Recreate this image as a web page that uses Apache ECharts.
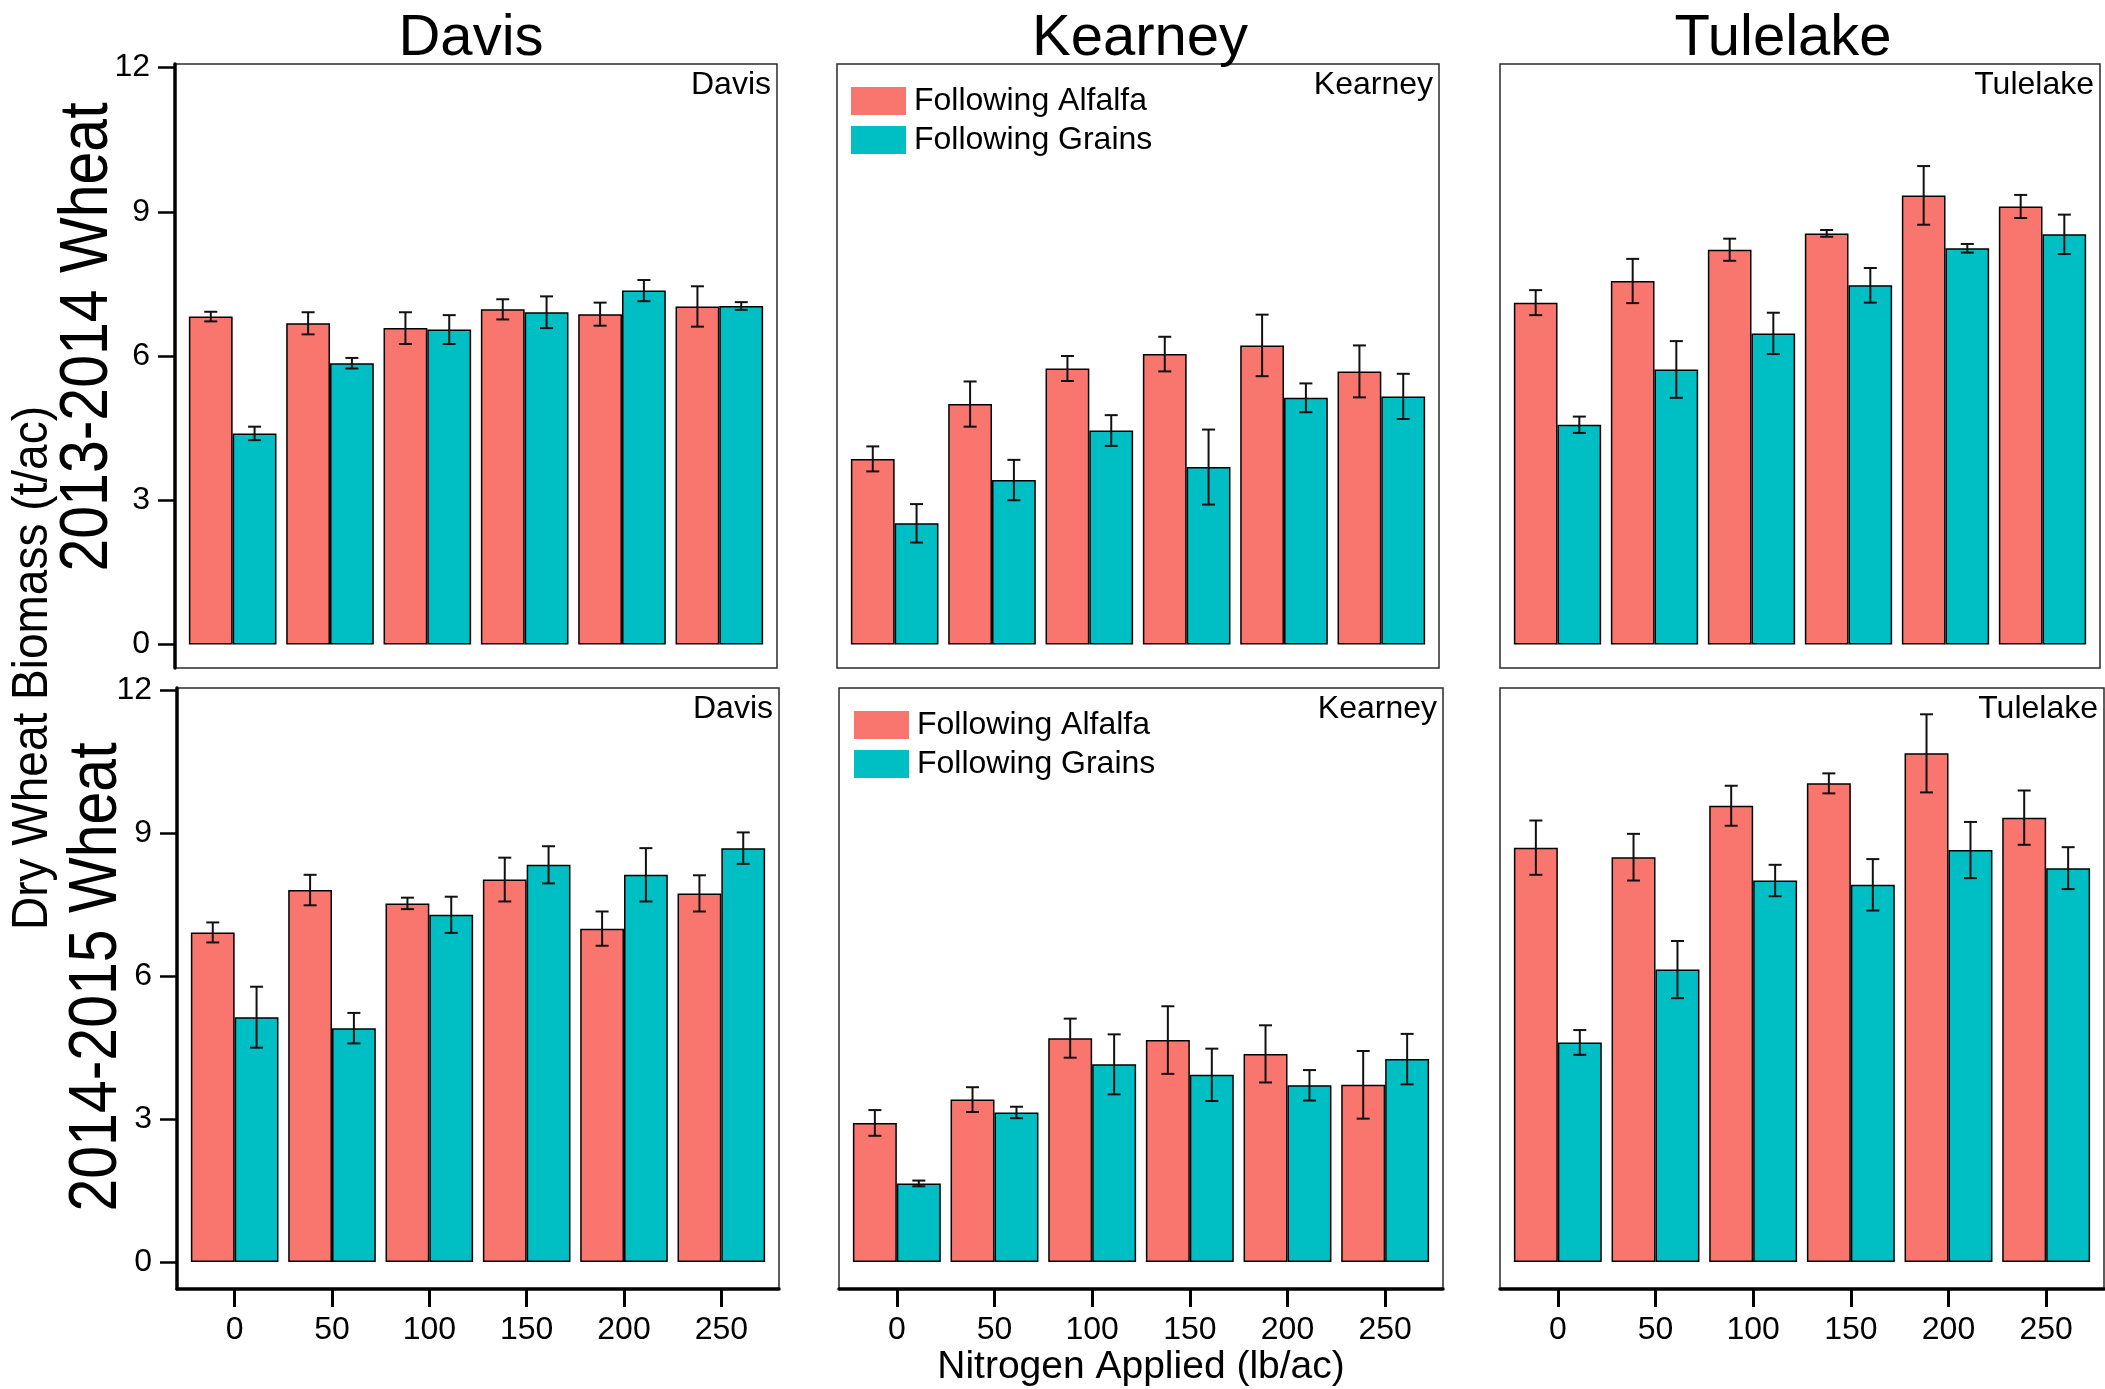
<!DOCTYPE html>
<html>
<head>
<meta charset="utf-8">
<script src="https://cdn.jsdelivr.net/npm/echarts@6/dist/echarts.min.js"></script>
<style>
html,body{margin:0;padding:0;background:#fff;}
#chart{width:2105px;height:1389px;}
</style>
</head>
<body>
<div id="chart"></div>
<script>
// ---------------- DATA ----------------
const nitrogen = ['0', '50', '100', '150', '200', '250'];
const sites = ['Davis', 'Kearney', 'Tulelake'];
const seasons = ['2013-2014 Wheat', '2014-2015 Wheat'];
const seriesNames = ['Following Alfalfa', 'Following Grains'];
const yTicks = [0, 3, 6, 9, 12];

// 2013-2014
const davis1314Alfalfa     = [6.82, 6.68, 6.58, 6.97, 6.87, 7.03];
const davis1314AlfalfaErr  = [0.10, 0.23, 0.33, 0.21, 0.24, 0.42];
const davis1314Grains      = [4.39, 5.85, 6.55, 6.91, 7.36, 7.04];
const davis1314GrainsErr   = [0.14, 0.11, 0.30, 0.33, 0.22, 0.08];

const kearney1314Alfalfa    = [3.86, 5.00, 5.74, 6.04, 6.22, 5.68];
const kearney1314AlfalfaErr = [0.26, 0.47, 0.26, 0.36, 0.64, 0.54];
const kearney1314Grains     = [2.52, 3.42, 4.45, 3.69, 5.13, 5.16];
const kearney1314GrainsErr  = [0.40, 0.42, 0.32, 0.78, 0.30, 0.47];

const tulelake1314Alfalfa    = [7.11, 7.56, 8.21, 8.55, 9.34, 9.11];
const tulelake1314AlfalfaErr = [0.26, 0.46, 0.23, 0.07, 0.61, 0.24];
const tulelake1314Grains     = [4.57, 5.72, 6.47, 7.47, 8.24, 8.53];
const tulelake1314GrainsErr  = [0.17, 0.59, 0.43, 0.36, 0.09, 0.41];

// 2014-2015
const davis1415Alfalfa     = [6.92, 7.81, 7.53, 8.03, 7.00, 7.74];
const davis1415AlfalfaErr  = [0.21, 0.32, 0.12, 0.46, 0.36, 0.38];
const davis1415Grains      = [5.14, 4.91, 7.29, 8.34, 8.13, 8.69];
const davis1415GrainsErr   = [0.64, 0.32, 0.38, 0.39, 0.56, 0.33];

const kearney1415Alfalfa    = [2.92, 3.41, 4.70, 4.66, 4.37, 3.72];
const kearney1415AlfalfaErr = [0.27, 0.26, 0.41, 0.71, 0.60, 0.71];
const kearney1415Grains     = [1.65, 3.14, 4.15, 3.93, 3.71, 4.26];
const kearney1415GrainsErr  = [0.06, 0.12, 0.63, 0.55, 0.32, 0.53];

const tulelake1415Alfalfa    = [8.70, 8.50, 9.58, 10.05, 10.68, 9.33];
const tulelake1415AlfalfaErr = [0.57, 0.49, 0.42, 0.21, 0.82, 0.57];
const tulelake1415Grains     = [4.61, 6.14, 8.01, 7.92, 8.65, 8.27];
const tulelake1415GrainsErr  = [0.26, 0.60, 0.33, 0.54, 0.59, 0.44];

const panels = [
  [davis1314Alfalfa, davis1314AlfalfaErr, davis1314Grains, davis1314GrainsErr],
  [kearney1314Alfalfa, kearney1314AlfalfaErr, kearney1314Grains, kearney1314GrainsErr],
  [tulelake1314Alfalfa, tulelake1314AlfalfaErr, tulelake1314Grains, tulelake1314GrainsErr],
  [davis1415Alfalfa, davis1415AlfalfaErr, davis1415Grains, davis1415GrainsErr],
  [kearney1415Alfalfa, kearney1415AlfalfaErr, kearney1415Grains, kearney1415GrainsErr],
  [tulelake1415Alfalfa, tulelake1415AlfalfaErr, tulelake1415Grains, tulelake1415GrainsErr]
];

// ---------------- LAYOUT / STYLE ----------------
const FONT = "'Liberation Sans', Arial, Helvetica, sans-serif";
const COLORS = ['#F8766D', '#00BFC4'];
const boxes = [
  [175, 64, 777, 668], [837, 64, 1439, 668], [1500, 64, 2100, 668],
  [177, 688, 779, 1289], [839, 688, 1443, 1289], [1500, 688, 2104, 1289]
];
const dataRows = [[67.5, 644.5], [690.5, 1262]];
const inset = 9;

const grid = [], xAxis = [], yAxis = [], series = [];

function renderErr(params, api) {
  const i = api.value(0), lo = api.value(1), hi = api.value(2), side = api.value(3);
  const band = api.size([1, 0])[0];
  const cx = api.coord([i, 0])[0] + side * band * 0.225;
  const yLo = api.coord([i, lo])[1];
  const yHi = api.coord([i, hi])[1];
  const cap = 6.5;
  const st = { stroke: '#111', lineWidth: 2 };
  return {
    type: 'group',
    children: [
      { type: 'line', shape: { x1: cx, y1: yLo, x2: cx, y2: yHi }, style: st },
      { type: 'line', shape: { x1: cx - cap, y1: yHi, x2: cx + cap, y2: yHi }, style: st },
      { type: 'line', shape: { x1: cx - cap, y1: yLo, x2: cx + cap, y2: yLo }, style: st }
    ]
  };
}

panels.forEach((pd, p) => {
  const row = Math.floor(p / 3), col = p % 3;
  const b = boxes[p];
  const dr = dataRows[row];
  // border grid
  grid.push({ left: b[0], top: b[1], width: b[2] - b[0], height: b[3] - b[1],
    show: true, borderColor: '#2a2a2a', borderWidth: 1.5, backgroundColor: 'transparent' });
  // data grid
  grid.push({ left: b[0] + inset, top: dr[0], width: b[2] - b[0] - 2 * inset, height: dr[1] - dr[0],
    show: false });
  const gB = 2 * p, gD = 2 * p + 1;
  xAxis.push({ gridIndex: gB, type: 'value', min: 0, max: 1, show: row === 1,
    axisLine: { show: true, onZero: false, lineStyle: { color: '#000', width: 3.5 } },
    axisTick: { show: false }, axisLabel: { show: false }, splitLine: { show: false } });
  yAxis.push({ gridIndex: gB, type: 'value', min: 0, max: 1, show: col === 0,
    axisLine: { show: true, onZero: false, lineStyle: { color: '#000', width: 3.5 } },
    axisTick: { show: false }, axisLabel: { show: false }, splitLine: { show: false } });
  xAxis.push({ gridIndex: gD, type: 'category', data: nitrogen, show: row === 1,
    position: 'bottom', offset: b[3] - dr[1],
    axisLine: { show: false, onZero: false },
    axisTick: { show: true, alignWithLabel: true, length: 18, lineStyle: { color: '#000', width: 3 } },
    axisLabel: { fontSize: 32, fontFamily: FONT, color: '#000', margin: 25 },
    splitLine: { show: false } });
  yAxis.push({ gridIndex: gD, type: 'value', min: 0, max: 12, interval: 3, show: col === 0,
    position: 'left', offset: inset,
    axisLine: { show: false, onZero: false },
    axisTick: { show: true, length: 17, lineStyle: { color: '#000', width: 2.5 } },
    axisLabel: { fontSize: 32, fontFamily: FONT, color: '#000', margin: 25,
      customValues: yTicks },
    splitLine: { show: false } });
  const vals = [pd[0], pd[2]], errs = [pd[1], pd[3]];
  vals.forEach((v, s) => {
    series.push({
      type: 'bar', name: seriesNames[s], xAxisIndex: gD, yAxisIndex: gD,
      data: v, barGap: '0%', barCategoryGap: '10%',
      itemStyle: { color: COLORS[s], borderColor: '#000', borderWidth: 1.5 },
      z: 2
    });
  });
  const errData = [];
  vals.forEach((v, s) => {
    v.forEach((val, i) => {
      errData.push([i, val - errs[s][i], val + errs[s][i], s === 0 ? -1 : 1]);
    });
  });
  series.push({
    type: 'custom', name: 'err' + p, xAxisIndex: gD, yAxisIndex: gD,
    data: errData, renderItem: renderErr, encode: { x: 0, y: [1, 2] }, z: 5, silent: true
  });
});

const legendBase = {
  data: seriesNames, orient: 'vertical', itemWidth: 55, itemHeight: 28, itemGap: 7,
  icon: 'rect', selectedMode: false, padding: 0,
  itemStyle: { borderWidth: 0 },
  textStyle: { fontSize: 32, fontFamily: FONT, color: '#000', padding: [0, 0, 0, 3] }
};
const legend = [
  Object.assign({}, legendBase, { left: 851, top: 85 }),
  Object.assign({}, legendBase, { left: 854, top: 709 })
];

const graphic = [];
const titleX = [471, 1140, 1783];
sites.forEach((s, c) => {
  graphic.push({ type: 'text', x: titleX[c], y: 39,
    style: { text: s, font: `58px ${FONT}`, fill: '#000', textAlign: 'center', textVerticalAlign: 'middle' } });
});
boxes.forEach((b, p) => {
  const row = Math.floor(p / 3);
  graphic.push({ type: 'text', x: b[2] - 6, y: row === 0 ? 85 : 709,
    style: { text: sites[p % 3], font: `32px ${FONT}`, fill: '#000', textAlign: 'right', textVerticalAlign: 'middle' } });
});
graphic.push({ type: 'text', x: 33.5, y: 668, rotation: Math.PI / 2, scaleY: 1.07,
  style: { text: 'Dry Wheat Biomass (t/ac)', font: `46px ${FONT}`, fill: '#000', textAlign: 'center', textVerticalAlign: 'middle' } });
graphic.push({ type: 'text', x: 88, y: 337, rotation: Math.PI / 2, scaleY: 1.16,
  style: { text: seasons[0], font: `59px ${FONT}`, fill: '#000', textAlign: 'center', textVerticalAlign: 'middle' } });
graphic.push({ type: 'text', x: 97, y: 977, rotation: Math.PI / 2, scaleY: 1.16,
  style: { text: seasons[1], font: `59px ${FONT}`, fill: '#000', textAlign: 'center', textVerticalAlign: 'middle' } });
graphic.push({ type: 'text', x: 1141, y: 1367,
  style: { text: 'Nitrogen Applied (lb/ac)', font: `39px ${FONT}`, fill: '#000', textAlign: 'center', textVerticalAlign: 'middle' } });

const chart = echarts.init(document.getElementById('chart'), null, { renderer: 'canvas' });
chart.setOption({
  animation: false,
  backgroundColor: '#fff',
  grid, xAxis, yAxis, series, legend, graphic
});
</script>
</body>
</html>
